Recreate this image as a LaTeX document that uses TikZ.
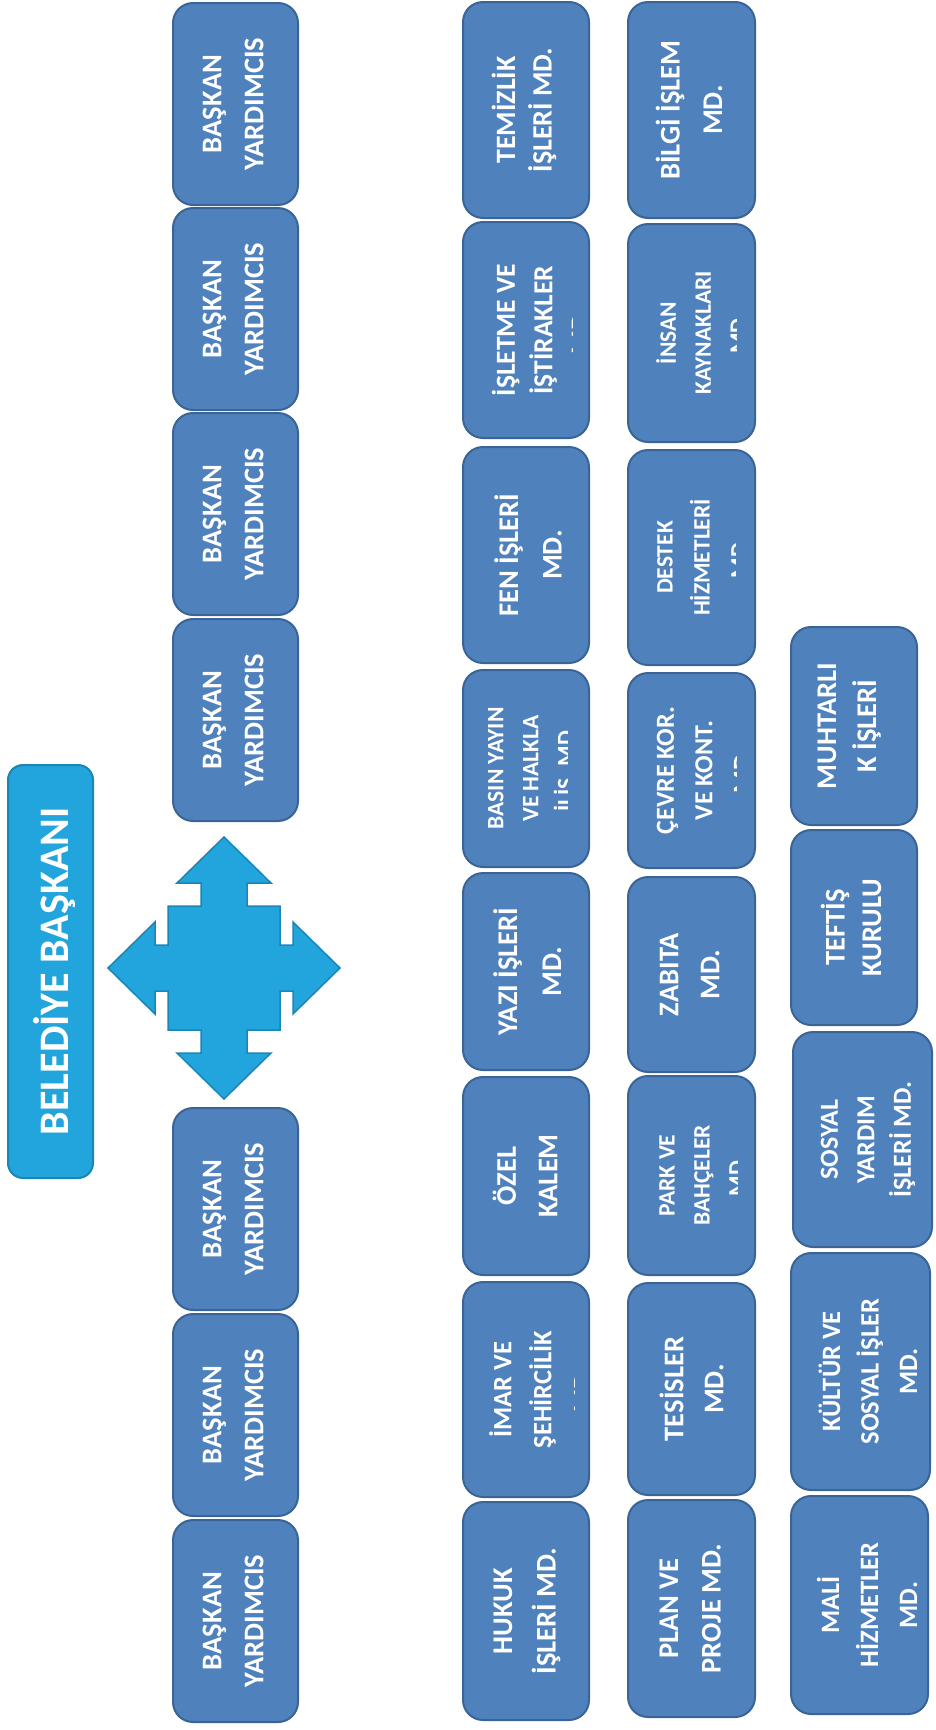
\documentclass[tikz,border=0pt]{standalone}
\usepackage{fontspec}
\setmainfont{Carlito}
\definecolor{boxfill}{HTML}{4F81BD}
\definecolor{boxline}{HTML}{3A6496}
\definecolor{skyfill}{HTML}{22A4DD}
\definecolor{skyline}{HTML}{1B86B6}
\begin{document}
\begin{tikzpicture}[x=1pt,y=-1pt,
  bx/.style={draw=boxline, fill=boxfill, line width=2pt, rounded corners=20pt, inner sep=0pt, minimum width=126pt},
  chief/.style={draw=skyline, fill=skyfill, line width=2pt, rounded corners=15pt, inner sep=0pt},
  lbl/.style={rotate=90, text=white, align=center, inner sep=0pt},
  fs/.style 2 args={font=\fontsize{#1}{#2}\selectfont\bfseries},
  quad/.style={draw=skyline, fill=skyfill, line width=1.5pt, line join=miter}]
\useasboundingbox (0,0) rectangle (936,1730);

% --- chief ---
\node[chief, minimum width=85pt, minimum height=413pt] (mayor) at (50.5,971.5) {};
\node[lbl, fs={42}{50}] (mayorT) at (54,971.5) {BELEDİYE BAŞKANI};

% --- four-way arrow ---
\filldraw[quad] (224,837) -- (271,883) -- (247,883) -- (247,906) -- (280,906)
  -- (280,945) -- (293,945) -- (293,922) -- (340,968) -- (293,1014) -- (293,991)
  -- (280,991) -- (280,1030) -- (247,1030) -- (247,1053) -- (271,1053) -- (224,1099)
  -- (177,1053) -- (201,1053) -- (201,1030) -- (168,1030) -- (168,991) -- (155,991)
  -- (155,1014) -- (108,968) -- (155,922) -- (155,945) -- (168,945) -- (168,906)
  -- (201,906) -- (201,883) -- (177,883) -- cycle;

% --- deputies ---
\foreach \i/\cy in {1/104, 2/309, 3/514, 4/720, 5/1209, 6/1415, 7/1621}{
  \node[bx, minimum width=125pt, minimum height=202pt] (by\i) at (235.5,\cy) {};
  \node[lbl, fs={28.5}{42}] (by\i T) at (233,\cy) {BAŞKAN\\YARDIMCIS};
}

% --- column 3 ---
\node[bx, minimum height=216pt] (temizlik) at (526,110) {};
\node[lbl, fs={28}{36.5}] (temizlikT) at (524,110) {TEMİZLİK\\İŞLERİ MD.};

\node[bx, minimum height=216pt] (isletme) at (526,330) {};
\begin{scope}
  \clip (463,222) rectangle (572,438);
  \node[lbl, fs={27.5}{37.4}] (isletmeT) at (540.9,330) {İŞLETME VE\\İŞTİRAKLER\\MD.};
\end{scope}

\node[bx, minimum height=216pt] (fen) at (526,555) {};
\node[lbl, fs={28.5}{43.5}] (fenT) at (528,555) {FEN İŞLERİ\\MD.};

\node[bx, minimum height=197pt] (basin) at (526,768.5) {};
\begin{scope}
  \clip (463,670) rectangle (567,867);
  \node[lbl, fs={23.5}{35}] (basinT) at (532.7,768.5) {BASIN YAYIN\\VE HALKLA\\İLİŞ. MD.};
\end{scope}

\node[bx, minimum height=197pt] (yazi) at (526,971.5) {};
\node[lbl, fs={28.5}{44}] (yaziT) at (527.3,971.5) {YAZI İŞLERİ\\MD.};

\node[bx, minimum height=198pt] (ozel) at (526,1176) {};
\node[lbl, fs={28.5}{41.5}] (ozelT) at (525,1176) {ÖZEL\\KALEM};

\node[bx, minimum height=215pt] (imar) at (526,1389.5) {};
\begin{scope}
  \clip (463,1282) rectangle (574,1497);
  \node[lbl, fs={26.5}{40}] (imarT) at (540.4,1389.5) {İMAR VE\\ŞEHİRCİLİK\\MD.};
\end{scope}

\node[bx, minimum height=218pt] (hukuk) at (526,1611) {};
\node[lbl, fs={28.5}{43.5}] (hukukT) at (527,1611) {HUKUK\\İŞLERİ MD.};

% --- column 4 ---
\node[bx, minimum width=127pt, minimum height=216pt] (bilgi) at (691.5,110) {};
\node[lbl, fs={28.5}{42.5}] (bilgiT) at (689,110) {BİLGİ İŞLEM\\MD.};

\node[bx, minimum width=127pt, minimum height=218pt] (insan) at (691.5,333) {};
\begin{scope}
  \clip (628,224) rectangle (736,442);
  \node[lbl, fs={23.5}{35}] (insanT) at (701,333) {İNSAN\\KAYNAKLARI\\MD.};
\end{scope}

\node[bx, minimum width=127pt, minimum height=215pt] (destek) at (691.5,557.5) {};
\begin{scope}
  \clip (628,450) rectangle (735.5,665);
  \node[lbl, fs={23.5}{37}] (destekT) at (702,557.5) {DESTEK\\HİZMETLERİ\\MD.};
\end{scope}

\node[bx, minimum width=127pt, minimum height=195pt] (cevre) at (691.5,770.5) {};
\begin{scope}
  \clip (628,673) rectangle (736.7,868);
  \node[lbl, fs={26}{38.5}] (cevreT) at (704,770.5) {ÇEVRE KOR.\\VE KONT.\\MD.};
\end{scope}

\node[bx, minimum width=127pt, minimum height=195pt] (zabita) at (691.5,974.5) {};
\node[lbl, fs={28.5}{41}] (zabitaT) at (689.6,974.5) {ZABITA\\MD.};

\node[bx, minimum width=127pt, minimum height=199pt] (park) at (691.5,1175.5) {};
\begin{scope}
  \clip (628,1076) rectangle (737,1275);
  \node[lbl, fs={23.5}{35}] (parkT) at (702,1175.5) {PARK VE\\BAHÇELER\\MD.};
\end{scope}

\node[bx, minimum width=127pt, minimum height=212pt] (tesisler) at (691.5,1389) {};
\node[lbl, fs={28.5}{40}] (tesislerT) at (691.5,1389) {TESİSLER\\MD.};

\node[bx, minimum width=127pt, minimum height=217pt] (plan) at (691.5,1608.5) {};
\node[lbl, fs={28.5}{42.5}] (planT) at (690.3,1608.5) {PLAN VE\\PROJE MD.};

% --- column 5 ---
\node[bx, minimum height=198pt] (muhtar) at (854,726) {};
\node[lbl, fs={28.5}{40}] (muhtarT) at (849.3,726) {MUHTARLI\\K İŞLERİ};

\node[bx, minimum height=195pt] (teftis) at (854,927.5) {};
\node[lbl, fs={28.5}{36.5}] (teftisT) at (851,927.5) {TEFTİŞ\\KURULU};

\node[bx, minimum width=139pt, minimum height=215pt] (sosyal) at (862.5,1139.5) {};
\node[lbl, fs={26}{36.5}] (sosyalT) at (868,1139.5) {SOSYAL\\YARDIM\\İŞLERİ MD.};

\node[bx, minimum width=139pt, minimum height=237pt] (kultur) at (860.5,1371.5) {};
\node[lbl, fs={26.5}{38.5}] (kulturT) at (868,1371.5) {KÜLTÜR VE\\SOSYAL İŞLER\\MD.};

\node[bx, minimum width=137pt, minimum height=218pt] (mali) at (859.5,1605) {};
\node[lbl, fs={26.5}{39}] (maliT) at (867,1605) {MALİ\\HİZMETLER\\MD.};
\end{tikzpicture}
\end{document}
